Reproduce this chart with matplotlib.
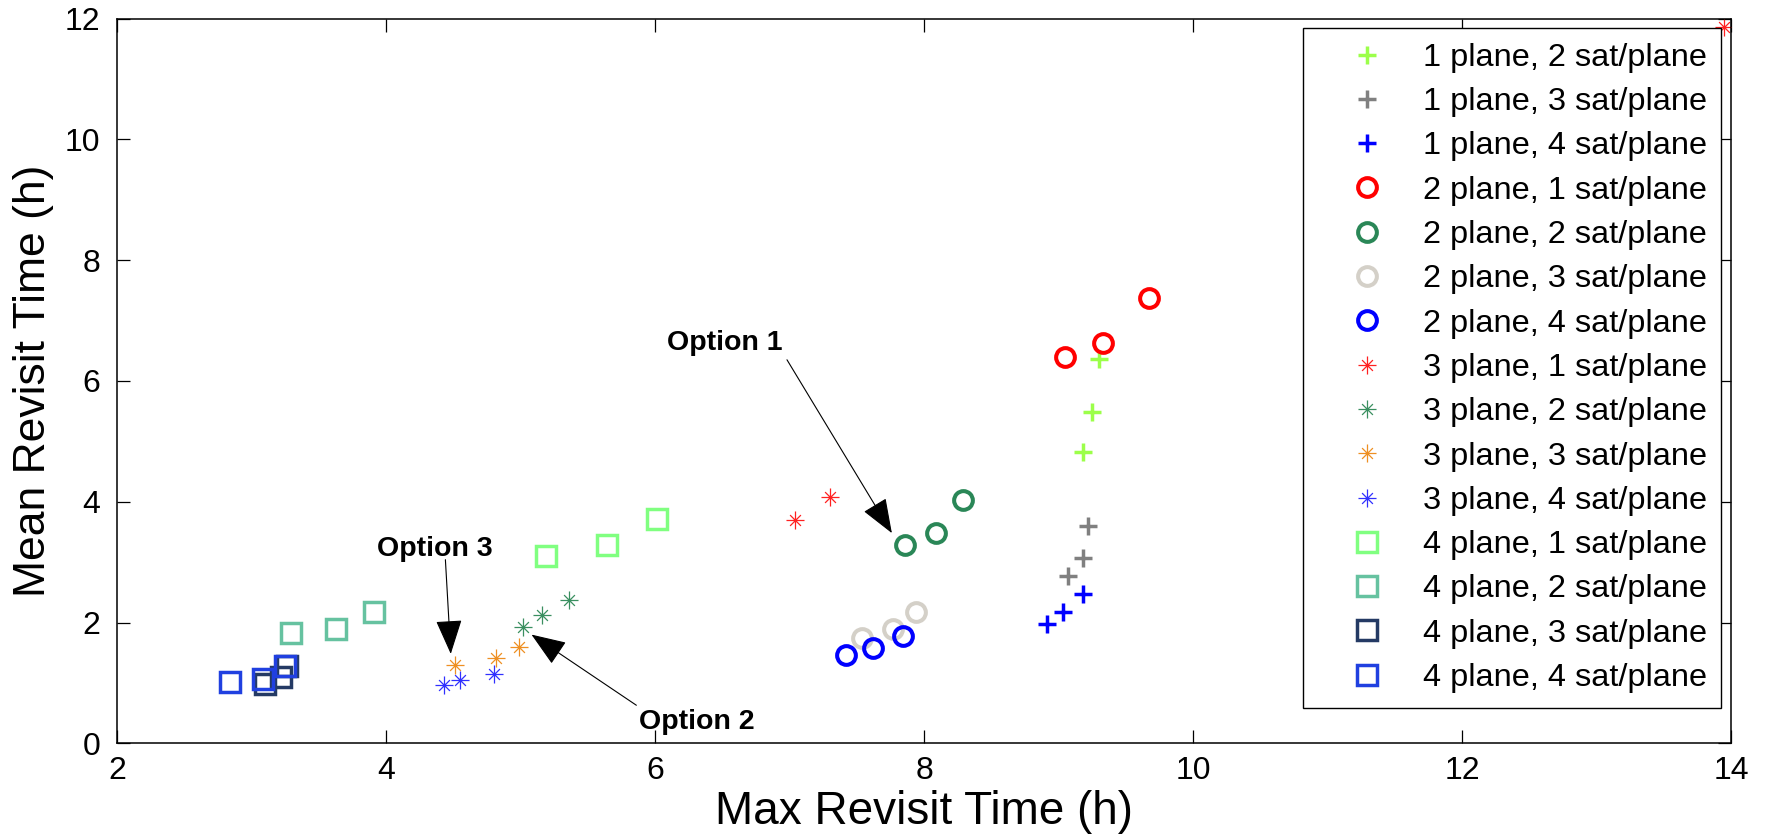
import numpy as np
import matplotlib
matplotlib.use('Agg')
import matplotlib.pyplot as plt
from matplotlib.path import Path

plt.rcParams['font.family'] = ['Liberation Sans', 'DejaVu Sans']

# ── Données : temps de revisite (h) par configuration de constellation ──
labels = [
    '1 plane, 2 sat/plane', '1 plane, 3 sat/plane', '1 plane, 4 sat/plane',
    '2 plane, 1 sat/plane', '2 plane, 2 sat/plane', '2 plane, 3 sat/plane',
    '2 plane, 4 sat/plane', '3 plane, 1 sat/plane', '3 plane, 2 sat/plane',
    '3 plane, 3 sat/plane', '3 plane, 4 sat/plane', '4 plane, 1 sat/plane',
    '4 plane, 2 sat/plane', '4 plane, 3 sat/plane', '4 plane, 4 sat/plane',
]

max_revisit = [
    [9.30, 9.25, 9.18],
    [9.22, 9.18, 9.07],
    [9.18, 9.03, 8.91],
    [9.67, 9.33, 9.05],
    [7.86, 8.09, 8.29],
    [7.54, 7.77, 7.94],
    [7.42, 7.62, 7.84],
    [7.04, 7.30, 13.95],
    [5.02, 5.16, 5.36],
    [4.51, 4.82, 4.99],
    [4.43, 4.55, 4.80],
    [5.19, 5.64, 6.01],
    [3.29, 3.63, 3.91],
    [3.10, 3.22, 3.26],
    [2.84, 3.08, 3.25],
]

mean_revisit = [
    [6.37, 5.49, 4.82],
    [3.59, 3.06, 2.77],
    [2.47, 2.17, 1.98],
    [7.37, 6.62, 6.39],
    [3.28, 3.48, 4.03],
    [1.75, 1.90, 2.17],
    [1.46, 1.57, 1.78],
    [3.70, 4.07, 11.86],
    [1.93, 2.12, 2.38],
    [1.30, 1.42, 1.60],
    [0.97, 1.05, 1.15],
    [3.10, 3.29, 3.71],
    [1.83, 1.90, 2.17],
    [0.98, 1.10, 1.28],
    [1.01, 1.06, 1.28],
]

colors = [
    '#9cff4a', '#808080', '#0000ff',
    '#ff0000', '#2a8757', '#d4d0c8', '#0000ff',
    '#ff2020', '#3a8f60', '#ee8f22', '#3030ff',
    '#80ff80', '#66c2a0', '#243a64', '#2040e0',
]

# options retenues : (texte, position texte, pointe de flèche)
options = ['Option 1', 'Option 2', 'Option 3']
option_text_xy = [(6.52, 6.62), (6.31, 0.36), (4.36, 3.22)]
option_tail_xy = [(6.98, 6.35), (5.86, 0.63), (4.44, 3.04)]
option_tip_xy = [(7.76, 3.48), (5.08, 1.80), (4.48, 1.48)]


# ── Marqueur astérisque (style MATLAB : + et x superposés) ─────────────
d = 0.6
ast_verts = [(-1, 0), (1, 0), (0, -1), (0, 1),
             (-d, -d), (d, d), (-d, d), (d, -d)]
ast_codes = [Path.MOVETO, Path.LINETO] * 4
asterisk = Path(ast_verts, ast_codes)

marker_styles = {
    1: dict(marker='+', markersize=13, markeredgewidth=2.5),
    2: dict(marker='o', markersize=13.5, markeredgewidth=2.9, markerfacecolor='none'),
    3: dict(marker=asterisk, markersize=13, markeredgewidth=0.9, markerfacecolor='none'),
    4: dict(marker='s', markersize=14, markeredgewidth=2.5, markerfacecolor='none'),
}

# ── Figure ─────────────────────────────────────────────────────────────
fig = plt.figure(figsize=(17.66, 8.38), dpi=100)
ax = fig.add_axes([0.0664, 0.1130, 0.9138, 0.8649])

for lab, xs, ys, col in zip(labels, max_revisit, mean_revisit, colors):
    n_planes = int(lab[0])
    ax.plot(xs, ys, linestyle='none', color=col, markeredgecolor=col,
            label=lab, **marker_styles[n_planes])

for txt, txy, tail, tip in zip(options, option_text_xy, option_tail_xy, option_tip_xy):
    ax.text(txy[0], txy[1], txt, fontsize=20.5, fontweight='bold',
            ha='center', va='center')
    ax.annotate('', xy=tip, xytext=tail,
                arrowprops=dict(arrowstyle='-|>,head_length=1.1,head_width=0.42',
                                color='black', lw=0.8, mutation_scale=20,
                                shrinkA=0, shrinkB=0))

ax.set_xlim(2, 14)
ax.set_ylim(0, 12)
ax.set_xticks(np.arange(2, 15, 2))
ax.set_yticks(np.arange(0, 13, 2))
ax.tick_params(direction='in', length=9.5, width=0.9, labelsize=23,
               top=True, right=True, pad=9)
ax.tick_params(axis='y', pad=12)
for sp in ax.spines.values():
    sp.set_linewidth(1.1)

ax.set_xlabel('Max Revisit Time (h)', fontsize=33, labelpad=3)
ax.set_ylabel('Mean Revisit Time (h)', fontsize=32, labelpad=8)

leg = ax.legend(loc='upper right', bbox_to_anchor=(1, 1), fontsize=23.4,
                numpoints=1, handlelength=3.0, handletextpad=0.22,
                borderpad=0.45, labelspacing=0.44, borderaxespad=0.3,
                fancybox=False, framealpha=1, edgecolor='black')
leg.get_frame().set_linewidth(1.0)

fig.savefig('out.png', dpi=100)
